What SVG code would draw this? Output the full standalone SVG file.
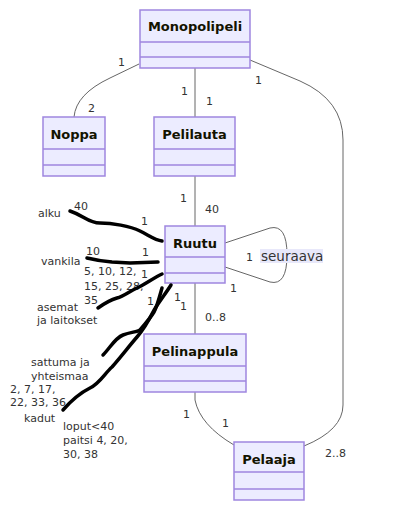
<svg xmlns="http://www.w3.org/2000/svg" width="407" height="520" viewBox="0 0 407 520">
<style>
.box{fill:#ECECFF;stroke:#9F86DF;stroke-width:1.5}
.div{stroke:#9F86DF;stroke-width:1.5}
.title{font-family:"DejaVu Sans",sans-serif;font-size:13px;font-weight:bold;fill:#131300;text-anchor:middle}
.lbl{font-family:"DejaVu Sans",sans-serif;font-size:11px;fill:#333}
.edge{fill:none;stroke:#666;stroke-width:1}
.ink{fill:none;stroke:#000;stroke-width:3.5;stroke-linecap:round;stroke-linejoin:round}
</style>
<rect width="407" height="520" fill="#fff"/>
<g id="connectors">
<path class="edge" d="M195,68 L195,117"/>
<path class="edge" d="M139,64 L110,78 Q76,94 74,117"/>
<path class="edge" d="M250,60 L300,81 Q343,100 343,140 L343,405 Q343,430 304,446"/>
<path class="edge" d="M195,176 L195,226"/>
<path class="edge" d="M195,283 L195,334"/>
<path class="edge" d="M195,392 L195,400 Q200,425 234,445"/>
<path class="edge" d="M225,243 L270,228 Q287,224 287,255 Q287,286 270,282 L225,267"/>
</g>
<g id="Monopolipeli">
<rect class="box" x="140" y="10" width="110" height="58"/>
<line class="div" x1="140" y1="42" x2="250" y2="42"/>
<line class="div" x1="140" y1="57" x2="250" y2="57"/>
<text class="title" x="195" y="31">Monopolipeli</text>
</g>
<g id="Noppa">
<rect class="box" x="43" y="117" width="62" height="59"/>
<line class="div" x1="43" y1="149" x2="105" y2="149"/>
<line class="div" x1="43" y1="165" x2="105" y2="165"/>
<text class="title" x="74" y="139">Noppa</text>
</g>
<g id="Pelilauta">
<rect class="box" x="154" y="117" width="81" height="59"/>
<line class="div" x1="154" y1="149" x2="235" y2="149"/>
<line class="div" x1="154" y1="165" x2="235" y2="165"/>
<text class="title" x="194.5" y="139">Pelilauta</text>
</g>
<g id="Ruutu">
<rect class="box" x="165" y="226" width="60" height="57"/>
<line class="div" x1="165" y1="257" x2="225" y2="257"/>
<line class="div" x1="165" y1="273" x2="225" y2="273"/>
<text class="title" x="195" y="248">Ruutu</text>
</g>
<g id="Pelinappula">
<rect class="box" x="144" y="334" width="102" height="58"/>
<line class="div" x1="144" y1="366" x2="246" y2="366"/>
<line class="div" x1="144" y1="381" x2="246" y2="381"/>
<text class="title" x="195" y="356">Pelinappula</text>
</g>
<g id="Pelaaja">
<rect class="box" x="234" y="442" width="70" height="58"/>
<line class="div" x1="234" y1="472" x2="304" y2="472"/>
<line class="div" x1="234" y1="489" x2="304" y2="489"/>
<text class="title" x="269" y="464">Pelaaja</text>
</g>
<g id="edge-labels">
<rect x="260" y="249" width="63" height="14" fill="#E8E8FA"/>
<text x="261" y="261" font-family="DejaVu Sans, sans-serif" font-size="13.5" fill="#333">seuraava</text>
<text class="lbl" x="181" y="95">1</text>
<text class="lbl" x="206" y="105">1</text>
<text class="lbl" x="118" y="66">1</text>
<text class="lbl" x="88" y="112">2</text>
<text class="lbl" x="255" y="84">1</text>
<text class="lbl" x="325" y="457">2..8</text>
<text class="lbl" x="180" y="202">1</text>
<text class="lbl" x="205" y="213">40</text>
<text class="lbl" x="246" y="261">1</text>
<text class="lbl" x="230" y="292">1</text>
<text class="lbl" x="180" y="310">1</text>
<text class="lbl" x="205" y="321">0..8</text>
<text class="lbl" x="183" y="418">1</text>
<text class="lbl" x="222" y="427">1</text>
<text class="lbl" x="74" y="210">40</text>
<text class="lbl" x="141" y="225">1</text>
<text class="lbl" x="38" y="217">alku</text>
<text class="lbl" x="86" y="255">10</text>
<text class="lbl" x="142" y="256">1</text>
<text class="lbl" x="41" y="265">vankila</text>
<text class="lbl" x="84" y="275">5, 10, 12,</text>
<text class="lbl" x="84" y="290">15, 25, 28,</text>
<text class="lbl" x="84" y="304">35</text>
<text class="lbl" x="141" y="278">1</text>
<text class="lbl" x="37" y="311">asemat</text>
<text class="lbl" x="37" y="324">ja laitokset</text>
<text class="lbl" x="147" y="305">1</text>
<text class="lbl" x="174" y="301">1</text>
<text class="lbl" x="31" y="366">sattuma ja</text>
<text class="lbl" x="31" y="380">yhteismaa</text>
<text class="lbl" x="10" y="393">2, 7, 17,</text>
<text class="lbl" x="10" y="406">22, 33, 36</text>
<text class="lbl" x="24" y="422">kadut</text>
<text class="lbl" x="63" y="430">loput&lt;40</text>
<text class="lbl" x="63" y="444">paitsi 4, 20,</text>
<text class="lbl" x="63" y="458">30, 38</text>
</g>
<g id="ink">
<path class="ink" d="M70,211 C85,216 88,223 100,223 S130,226 140,231 S155,240 162,241"/>
<path class="ink" d="M87,258 C95,260 100,261 112,262 L130,263 L158,262"/>
<path class="ink" d="M98,308 C105,303 110,300 117,298 S130,291 137,288 S155,277 162,274"/>
<path class="ink" d="M103,355 C110,348 115,338 123,335 S137,332 140,330 C146,323 151,317 154,312 S160,295 162,288"/>
<path class="ink" d="M63,410 C70,402 80,393 90,388 S105,373 112,367 C120,358 130,345 137,337 S150,318 153,312 S166,293 171,285"/>
</g>
</svg>
